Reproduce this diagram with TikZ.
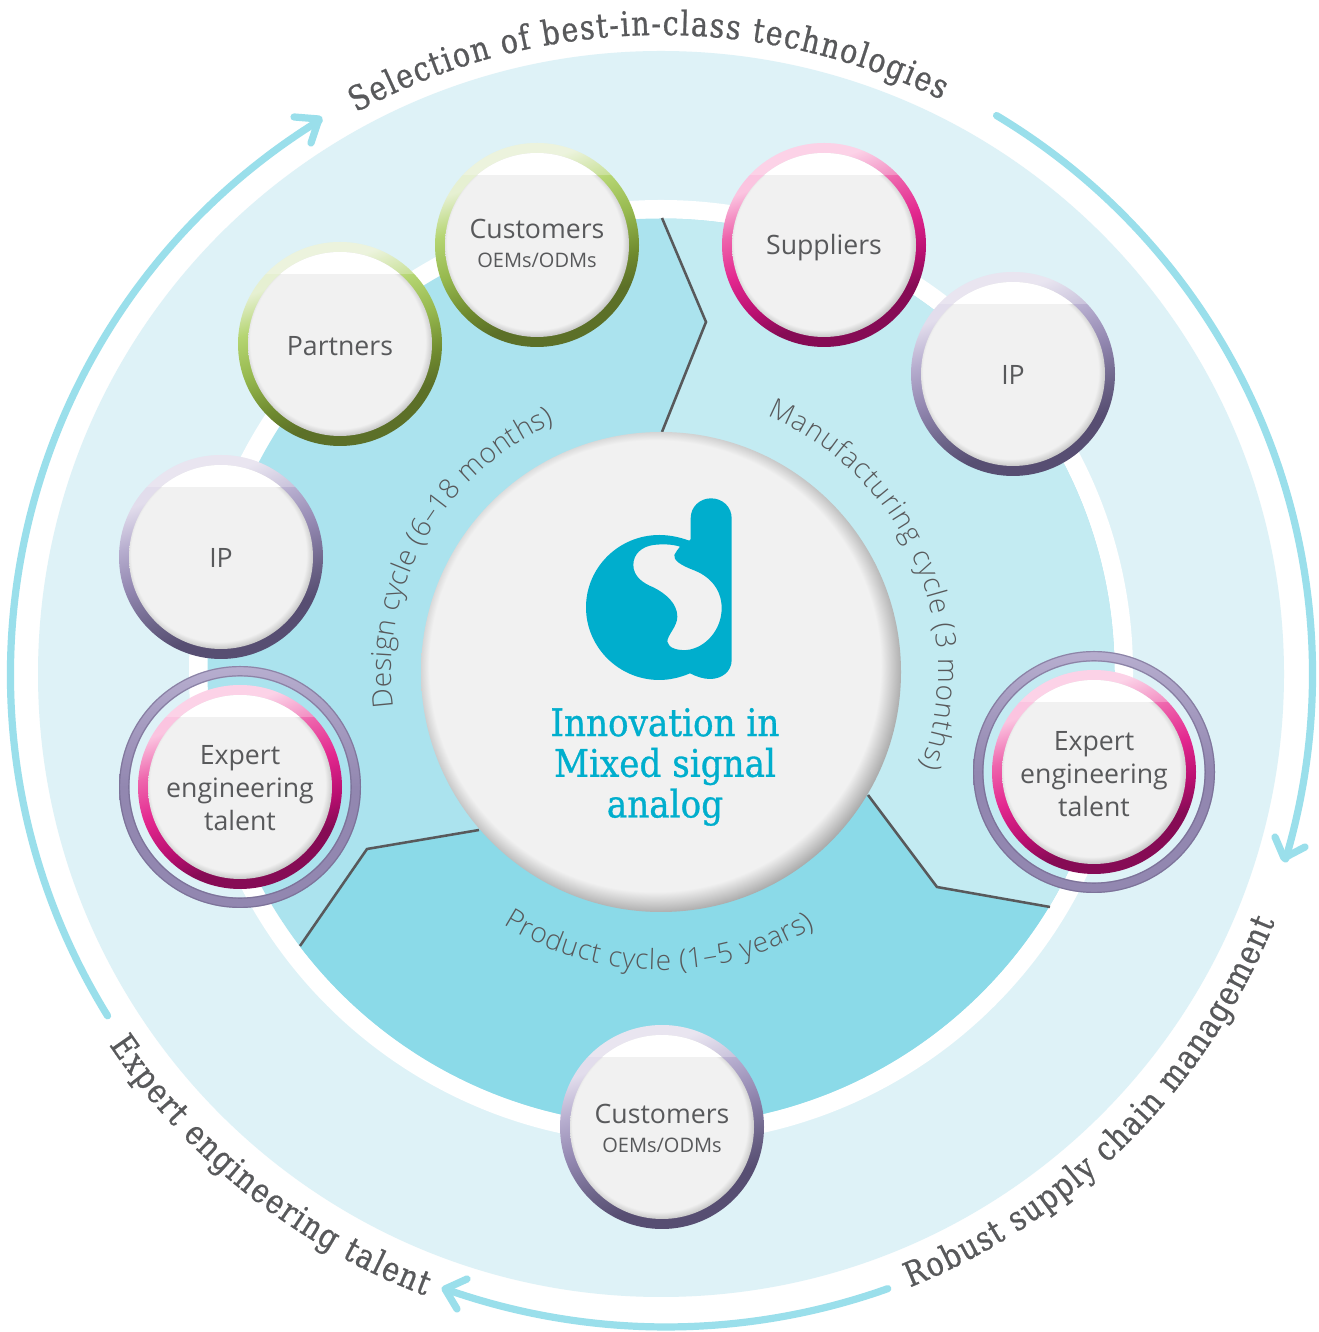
\documentclass[tikz,border=0pt]{standalone}
\usepackage{fontspec}
\usetikzlibrary{decorations.text}
\setmainfont{Open Sans}
\newfontfamily\slabf[FakeStretch=0.84,FakeBold=0.7]{DejaVu Serif}
\newfontfamily\hubf[FakeStretch=0.9,FakeBold=0.8]{DejaVu Serif}
\newfontfamily\thinf{Open Sans Light}
\definecolor{txtgrey}{HTML}{58595B}
\definecolor{logoblue}{HTML}{00AECD}
\definecolor{pale}{HTML}{DEF2F7}
\definecolor{arrowc}{HTML}{9ADFEB}
\definecolor{zonea}{HTML}{ABE3EE}
\definecolor{zoneb}{HTML}{C3EBF2}
\definecolor{zonec}{HTML}{8BDAE8}
\definecolor{bubg}{HTML}{F1F1F1}
\definecolor{grnA}{HTML}{5C7028}\definecolor{grnB}{HTML}{6F8A2F}\definecolor{grnC}{HTML}{96B84E}\definecolor{grnD}{HTML}{B5D572}\definecolor{grnE}{HTML}{E6F0D2}
\definecolor{pnkA}{HTML}{860B55}\definecolor{pnkB}{HTML}{B80F70}\definecolor{pnkC}{HTML}{E3288F}\definecolor{pnkD}{HTML}{EE66AD}\definecolor{pnkE}{HTML}{FBC4E0}
\definecolor{prpA}{HTML}{574E72}\definecolor{prpB}{HTML}{6C6488}\definecolor{prpC}{HTML}{9287B0}\definecolor{prpD}{HTML}{B7AECF}\definecolor{prpE}{HTML}{E2DDEC}
\pgfdeclareverticalshading{grnring}{100bp}{color(0bp)=(grnA);color(33bp)=(grnA);color(40bp)=(grnB);color(50bp)=(grnC);color(60bp)=(grnD);color(69bp)=(grnE);color(100bp)=(grnE)}
\pgfdeclareverticalshading{pnkring}{100bp}{color(0bp)=(pnkA);color(33bp)=(pnkA);color(40bp)=(pnkB);color(50bp)=(pnkC);color(60bp)=(pnkD);color(69bp)=(pnkE);color(100bp)=(pnkE)}
\pgfdeclareverticalshading{prpring}{100bp}{color(0bp)=(prpA);color(33bp)=(prpA);color(40bp)=(prpB);color(50bp)=(prpC);color(60bp)=(prpD);color(69bp)=(prpE);color(100bp)=(prpE)}
\pgfdeclareverticalshading{prpband}{100bp}{color(0bp)=(prpC);color(25bp)=(prpC);color(50bp)=(prpC);color(75bp)=(prpD);color(100bp)=(prpD)}
\pgfdeclareradialshading{bubin}{\pgfpoint{-1.2bp}{1.5bp}}{color(0bp)=(bubg);color(23.8bp)=(bubg);color(27bp)=(black!32);color(50bp)=(black!32)}
\pgfdeclareradialshading{hubin}{\pgfpoint{-1.2bp}{1.2bp}}{color(0bp)=(bubg);color(23.5bp)=(bubg);color(26.7bp)=(black!45);color(50bp)=(black!45)}
\tikzset{
  arrowline/.style={draw=arrowc,line width=5.4pt,line cap=round,line join=round},
  divider/.style={draw=txtgrey,line width=1.9pt,line join=miter},
  lbl/.style={text=txtgrey,align=center,inner sep=0pt,font=\fontsize{20}{24.75}\selectfont},
  outertext/.style={decorate,decoration={text along path,text align={fit to path},raise=0pt,
     text={|\fontsize{25.5}{30}\selectfont\slabf\color{txtgrey}|#1}}},
  innertext/.style={decorate,decoration={text along path,text align={fit to path},
     text={|\fontsize{21}{25}\selectfont\thinf\color{txtgrey}|#1}}}
}
\newcommand\bubblering[3]{%
  \shade[shading=#3,shading angle=20] (#1,#2) circle[radius=102];
  \begin{scope}
    \clip (#1,#2) circle[radius=102];
    \fill[white,opacity=.25] (#1-110,#2+70) rectangle (#1+110,#2+110);
  \end{scope}
  \shade[shading=bubin] (#1,#2) circle[radius=92];
  \begin{scope}
    \clip (#1,#2) circle[radius=92];
    \fill[white] (#1-110,#2+70) rectangle (#1+110,#2+110);
  \end{scope}}
\newcommand\outerband[2]{%
  \shade[shading=prpband,even odd rule] (#1,#2) circle[radius=121] circle[radius=110.5];
  \draw[prpB,opacity=.55,line width=.9pt] (#1,#2) circle[radius=120.4];
  \draw[prpB,opacity=.55,line width=.9pt] (#1,#2) circle[radius=111.2];}
\begin{document}
\begin{tikzpicture}[x=0.75pt,y=0.75pt]
\useasboundingbox (0,0) rectangle (1319,1332);
\fill[white] (0,0) rectangle (1319,1332);
\coordinate (C) at (661,658);
\coordinate (Hub) at (661,660);
\coordinate (Bot) at (666,666);
\fill[pale] (C) circle[radius=623];
\fill[white] (Hub) circle[radius=472];
% zones
\coordinate (a1) at (662,1114);\coordinate (a2) at (706,1010);\coordinate (a3) at (662,900);
\coordinate (b1) at (868,537);\coordinate (b2) at (937,445);\coordinate (b3) at (1050,425);
\coordinate (c1) at (479,502);\coordinate (c2) at (367,483);\coordinate (c3) at (300,386);
\begin{scope}
  \clip (Hub) circle[radius=453.5];
  \fill[zonea] (0,0) rectangle (1319,1332);
  \fill[zoneb] (a1)--(a2)--(a3)--(Hub)--(b1)--(b2)--(b3)--(1330,400)--(1330,1332)--(662,1332)--cycle;
  \fill[zonec] (Hub)--(b1)--(b2)--(b3)--(1330,400)--(1330,0)--(100,0)--(c3)--(c2)--(c1)--cycle;
\end{scope}
\draw[divider] (a1)--(a2)--(a3);
\draw[divider] (b1)--(b2)--(b3);
\draw[divider] (c1)--(c2)--(c3);
% arrows
\coordinate (t1) at (319,1213);\coordinate (t1a) at (294,1215);\coordinate (t1b) at (311,1189);
\coordinate (t2) at (1284,474);\coordinate (t2a) at (1275,495);\coordinate (t2b) at (1305,485);
\coordinate (t3) at (445,43);\coordinate (t3a) at (467,53);\coordinate (t3b) at (457,23);
\draw[arrowline] (C) ++(211.7:650.5) arc[start angle=211.7,end angle=121.7,radius=650.5];
\draw[arrowline] (t1a)--(t1)--(t1b);
\draw[arrowline] (C) ++(59:651.5) arc[start angle=59,end angle=-16.5,radius=651.5];
\draw[arrowline] (t2a)--(t2)--(t2b);
\draw[arrowline] (Bot) ++(-70.4:661) arc[start angle=-70.4,end angle=-109.5,radius=661];
\draw[arrowline] (t3a)--(t3)--(t3b);
% outer curved texts
\path[outertext={Selection of best-in-class technologies}] (C) ++(118.5:639) arc[start angle=118.5,end angle=64,radius=639];
\path[outertext={Robust supply chain management}] (C) ++(-67.9:662) arc[start angle=-67.9,end angle=-22,radius=662];
\path[outertext={Expert engineering talent}] (C) ++(213.9:665) arc[start angle=213.9,end angle=249.2,radius=665];
% inner curved texts
\path[innertext={Design cycle (6–18 months)}] (Hub) ++(187.6:270) arc[start angle=187.6,end angle=113.2,radius=270];
\path[innertext={Manufacturing cycle (3 months)}] (Hub) ++(67.5:277) arc[start angle=67.5,end angle=-20,radius=277];
\path[innertext={Product cycle (1–5 years)}] (Hub) ++(238:298) arc[start angle=238,end angle=301,radius=298];
% hub
\shade[shading=hubin] (Hub) circle[radius=240];
\begin{scope}[shift={(540,852)},x=0.25pt,y=-0.25pt]
\fill[logoblue,even odd rule] (452,115) .. controls (452,80) and (480,55) .. (513,55) .. controls (547,55) and (575,80) .. (575,115) -- (575,540) .. controls (575,575) and (545,597) .. (510,597) .. controls (490,597) and (470,590) .. (450,580) .. controls (422,592) and (390,600) .. (358,600) .. controls (237,600) and (138,502) .. (138,382) .. controls (138,262) and (237,165) .. (358,165) .. controls (390,165) and (420,172) .. (448,182) -- (452,178) -- cycle
 (420,200) .. controls (395,192) and (365,192) .. (340,195) .. controls (305,200) and (280,222) .. (280,255) .. controls (280,290) and (310,310) .. (340,322) .. controls (380,342) and (412,372) .. (412,410) .. controls (412,440) and (382,465) .. (382,485) .. controls (385,505) and (415,512) .. (440,510) .. controls (495,505) and (545,450) .. (545,385) .. controls (545,320) and (500,285) .. (460,270) .. controls (420,255) and (400,240) .. (403,225) .. controls (405,215) and (415,210) .. (420,200) -- cycle;
\end{scope}
\node[text=logoblue,align=center,inner sep=0pt,font=\fontsize{28.5}{30.5}\selectfont\hubf] (hubtext) at (665,565) {Innovation in\\Mixed signal\\analog};
% bubbles
\outerband{240}{545}
\outerband{1094}{560}
\bubblering{537}{1087}{grnring}
\bubblering{340}{988}{grnring}
\bubblering{221}{775}{prpring}
\bubblering{824}{1087}{pnkring}
\bubblering{1013}{958}{prpring}
\bubblering{240}{545}{pnkring}
\bubblering{1094}{560}{pnkring}
\bubblering{662}{205}{prpring}
\node[lbl] (custA) at (537,1089) {Customers\\[-3pt]{\fontsize{15}{18}\selectfont OEMs/ODMs}};
\node[lbl] (partners) at (340,986) {Partners};
\node[lbl] (ipL) at (221,774) {IP};
\node[lbl] (suppliers) at (824,1084) {Suppliers};
\node[lbl] (ipR) at (1013,957) {IP};
\node[lbl] (expertL) at (240,544) {Expert\\engineering\\talent};
\node[lbl] (expertR) at (1094,558) {Expert\\engineering\\talent};
\node[lbl] (custB) at (662,204) {Customers\\[-3pt]{\fontsize{15}{18}\selectfont OEMs/ODMs}};
\end{tikzpicture}
\end{document}
